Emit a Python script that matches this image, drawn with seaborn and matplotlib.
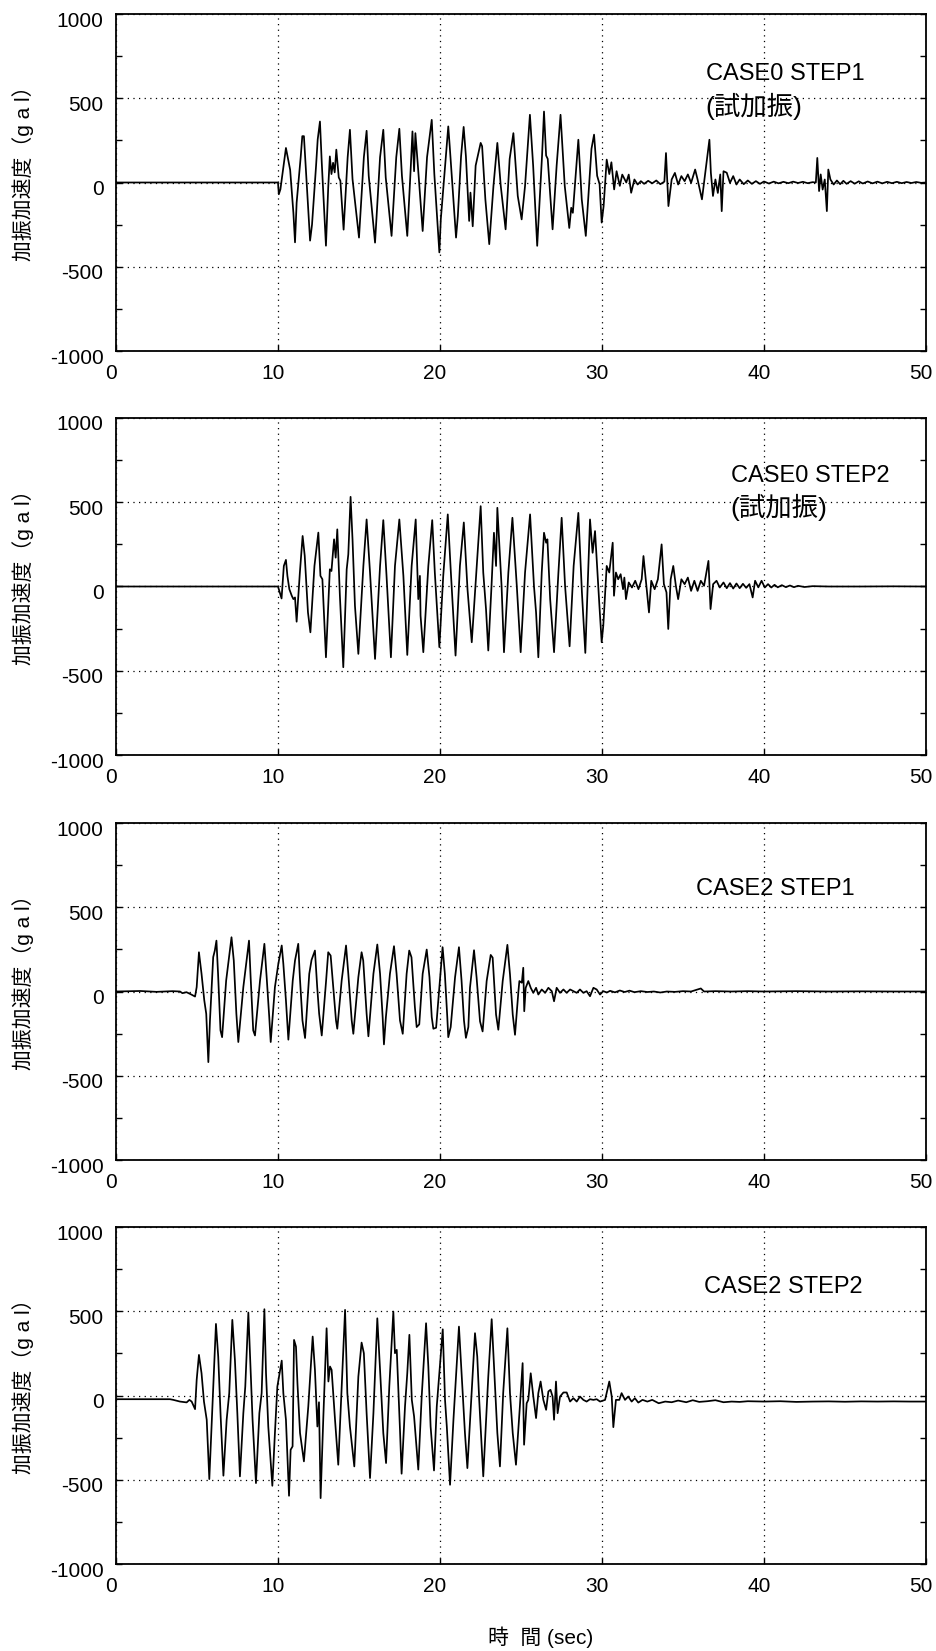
import pandas as pd
import matplotlib
matplotlib.use('Agg')
import matplotlib.pyplot as plt
import matplotlib.transforms as mtransforms
from matplotlib.ticker import MultipleLocator
import seaborn as sns

# (time [s], acceleration [gal]) vertices
case0_step1 = [
    (0, 0), (10.0, 0), (10.05, -70), (10.15, -40), (10.49, 205), (10.75, 75), (10.95, -180),
    (11.05, -355), (11.15, -120), (11.4, 150), (11.5, 275), (11.6, 275), (11.8, -50), (11.98, -345),
    (12.1, -250), (12.35, 100), (12.45, 255), (12.59, 362), (12.7, 120), (12.96, -375), (13.1, -30),
    (13.2, 155), (13.3, 50), (13.4, 117), (13.5, 60), (13.6, 195), (13.75, 30), (13.85, 10),
    (14.05, -280), (14.3, 150), (14.44, 313), (14.6, 20), (15.0, -327), (15.3, 150), (15.47, 307),
    (15.6, 40), (15.99, -357), (16.3, 150), (16.5, 313), (16.65, 30), (17.01, -317), (17.3, 150),
    (17.49, 319), (17.65, 40), (17.98, -317), (18.2, 100), (18.3, 303), (18.4, 67), (18.48, 293),
    (18.65, 80), (18.93, -288), (19.2, 150), (19.49, 372), (19.65, 50), (19.96, -415), (20.05, -218),
    (20.15, -100), (20.51, 333), (20.6, 215), (20.99, -327), (21.1, -200), (21.3, 155), (21.46, 330),
    (21.6, 155), (21.8, -228), (21.88, -60), (22.02, -260), (22.2, 100), (22.51, 235), (22.6, 215),
    (22.8, -100), (23.04, -366), (23.3, -20), (23.54, 235), (23.75, -20), (24.05, -278), (24.3, 140),
    (24.53, 293), (24.8, -80), (25.04, -219), (25.25, -20), (25.55, 402), (25.75, 100), (26.0, -376),
    (26.3, 160), (26.42, 421), (26.55, 160), (26.65, 140), (26.95, -278), (27.2, 100), (27.44, 402),
    (27.7, -20), (27.98, -270), (28.1, -150), (28.2, -180), (28.54, 254), (28.75, -100), (29.0, -317),
    (29.35, 200), (29.51, 284), (29.7, 40), (29.85, -10), (29.98, -238), (30.1, -140), (30.29, 136),
    (30.45, 50), (30.58, 120), (30.75, -41), (30.9, 67), (31.1, -20), (31.25, 47), (31.5, 0),
    (31.65, 47), (31.8, -61), (32.0, 18), (32.2, -12), (32.4, 8), (32.6, -8), (32.85, 10), (33.1, -5),
    (33.35, 12), (33.6, -10), (33.85, 5), (33.95, 175), (34.1, -140), (34.3, 18), (34.5, 57),
    (34.7, -12), (34.9, 38), (35.1, 8), (35.3, 48), (35.5, -2), (35.75, 77), (35.9, 18), (36.17, -100),
    (36.35, 38), (36.63, 254), (36.72, 58), (36.85, -80), (37.0, 18), (37.15, -62), (37.3, 48),
    (37.39, -170), (37.5, 67), (37.7, 58), (37.9, -2), (38.1, 38), (38.3, -12), (38.5, 18),
    (38.75, -10), (39.0, 12), (39.25, -8), (39.5, 8), (39.75, -8), (40.0, 6), (40.3, -6), (40.6, 5),
    (40.9, -5), (41.2, 4), (41.5, -4), (41.8, 5), (42.1, -3), (42.4, 4), (42.7, -4), (43.0, 2),
    (43.2, 0), (43.29, 146), (43.4, -51), (43.5, 48), (43.62, -42), (43.75, 18), (43.88, -170),
    (43.97, 77), (44.1, 18), (44.3, -12), (44.5, 12), (44.7, -10), (44.9, 10), (45.1, -8), (45.35, 8),
    (45.6, -7), (45.85, 7), (46.1, -6), (46.4, 6), (46.7, -5), (47.0, 5), (47.3, -5), (47.6, 4),
    (47.9, -4), (48.2, 4), (48.5, -4), (48.8, 3), (49.1, -3), (49.4, 3), (49.7, -2), (50, 0),
]

case0_step2 = [
    (0, 0), (10.0, 0), (10.22, -71), (10.36, 122), (10.49, 158), (10.58, 63), (10.7, -16), (10.85, -55),
    (10.95, -75), (11.05, -65), (11.15, -209), (11.35, 83), (11.52, 300), (11.65, 182), (11.85, -154),
    (12.0, -272), (12.25, 122), (12.49, 320), (12.62, 63), (12.74, 43), (12.96, -420), (13.2, 102),
    (13.3, 92), (13.46, 280), (13.56, 171), (13.66, 339), (13.82, -55), (14.03, -479), (14.24, 102),
    (14.34, 191), (14.48, 532), (14.6, 280), (14.75, -114), (14.96, -400), (15.27, 122), (15.47, 398),
    (15.68, 83), (15.99, -430), (16.3, 122), (16.5, 394), (16.7, 63), (16.97, -420), (17.22, 122),
    (17.49, 398), (17.74, 63), (17.98, -406), (18.25, 122), (18.5, 398), (18.66, -75), (18.76, 63),
    (18.8, -173), (18.97, -390), (19.28, 122), (19.52, 394), (19.68, 83), (19.96, -360), (20.2, 63),
    (20.48, 428), (20.66, 102), (20.96, -410), (21.23, 122), (21.47, 380), (21.7, -20), (21.96, -331),
    (22.27, 122), (22.51, 477), (22.67, 83), (22.84, -134), (22.98, -380), (23.18, 4), (23.33, 319),
    (23.46, 122), (23.54, 467), (23.8, 4), (23.95, -390), (24.22, 83), (24.47, 408), (24.74, 4),
    (24.98, -390), (25.25, 83), (25.56, 428), (25.8, 4), (25.93, -154), (26.07, -420), (26.28, 83),
    (26.42, 319), (26.55, 260), (26.63, 280), (26.8, -75), (27.04, -390), (27.31, 83), (27.51, 408),
    (27.72, 4), (28.0, -355), (28.25, 122), (28.54, 437), (28.76, -35), (28.97, -394), (29.26, 398),
    (29.42, 200), (29.57, 329), (29.67, 162), (29.84, -114), (29.98, -331), (30.08, -232), (30.29, 122),
    (30.45, 83), (30.66, 260), (30.74, -55), (30.86, 83), (31.0, 43), (31.15, 73), (31.3, -16),
    (31.38, 53), (31.48, -75), (31.65, 24), (31.85, -6), (32.05, 34), (32.25, -16), (32.45, 43),
    (32.56, 181), (32.77, -26), (32.9, -154), (33.04, 34), (33.25, -16), (33.45, 43), (33.68, 250),
    (33.82, 14), (33.98, -35), (34.09, -252), (34.24, 43), (34.4, 122), (34.56, 4), (34.7, -75),
    (34.9, 43), (35.1, 14), (35.3, 53), (35.5, -26), (35.7, 34), (35.9, -26), (36.1, 34), (36.3, 4),
    (36.57, 152), (36.7, -134), (36.86, 14), (37.07, 34), (37.27, -6), (37.5, 24), (37.7, -10),
    (37.9, 20), (38.1, -12), (38.3, 18), (38.5, -10), (38.7, 16), (38.9, -8), (39.1, 14), (39.3, -65),
    (39.45, 34), (39.65, -5), (39.85, 34), (40.05, -6), (40.25, 14), (40.45, -6), (40.65, 10),
    (40.85, -5), (41.1, 8), (41.35, -4), (41.6, 6), (41.85, -4), (42.1, 4), (42.5, -3), (43.0, 2),
    (44.0, 0), (46.0, 0), (48.0, 1), (50, 0),
]

case2_step1 = [
    (0, 0), (1.5, 3), (2.5, -2), (3.5, 2), (3.95, 0), (4.1, -10), (4.35, -4), (4.65, -18), (4.88, -30),
    (4.98, 26), (5.12, 233), (5.28, 105), (5.45, -53), (5.57, -132), (5.7, -419), (5.8, -172),
    (6.0, 204), (6.1, 243), (6.2, 302), (6.3, 105), (6.45, -231), (6.55, -271), (6.8, 65), (7.13, 322),
    (7.27, 184), (7.43, -132), (7.55, -300), (7.86, 26), (8.06, 184), (8.21, 302), (8.31, 85),
    (8.47, -231), (8.58, -261), (8.89, 65), (9.16, 283), (9.3, 85), (9.46, -152), (9.55, -300),
    (9.81, 26), (10.02, 164), (10.23, 273), (10.33, 164), (10.49, -53), (10.64, -286), (10.91, 65),
    (11.05, 184), (11.25, 283), (11.35, 85), (11.51, -172), (11.67, -276), (11.93, 105), (12.07, 187),
    (12.28, 243), (12.42, 26), (12.54, -132), (12.7, -261), (12.97, 65), (13.1, 233), (13.25, 213),
    (13.41, 26), (13.58, -172), (13.66, -221), (13.93, 65), (14.2, 273), (14.34, 105), (14.55, -172),
    (14.65, -251), (14.96, 85), (15.16, 233), (15.26, 184), (15.47, -132), (15.58, -266), (15.89, 105),
    (16.13, 279), (16.3, 105), (16.46, -152), (16.54, -314), (16.66, -152), (16.91, 105), (17.16, 269),
    (17.32, 105), (17.53, -172), (17.7, -251), (17.94, 105), (18.1, 243), (18.24, 203), (18.45, -93),
    (18.56, -211), (18.72, -195), (18.93, 105), (19.18, 249), (19.35, 85), (19.49, -152), (19.59, -221),
    (19.76, -215), (19.96, 26), (20.16, 263), (20.3, 105), (20.45, -152), (20.51, -271), (20.66, -211),
    (20.93, 85), (21.17, 263), (21.33, 65), (21.48, -172), (21.6, -275), (21.75, -211), (21.85, 22),
    (22.1, 245), (22.26, 82), (22.47, -177), (22.63, -237), (22.88, 62), (23.13, 217), (23.25, 201),
    (23.46, -137), (23.6, -227), (23.87, 62), (24.16, 277), (24.32, 102), (24.49, -137), (24.63, -257),
    (24.84, 0), (24.9, 62), (25.05, 52), (25.14, 141), (25.2, -117), (25.29, 22), (25.45, 62),
    (25.6, 22), (25.76, -8), (25.93, 22), (26.07, -18), (26.28, 12), (26.49, -8), (26.69, 22),
    (26.9, 2), (27.04, -58), (27.2, 22), (27.41, -8), (27.62, 12), (27.82, -8), (28.03, 12),
    (28.23, 2), (28.44, -8), (28.64, 12), (28.85, -8), (29.05, 2), (29.26, -28), (29.47, 22),
    (29.67, 12), (29.88, -18), (30.08, 2), (30.3, -6), (30.5, 4), (30.8, -5), (31.1, 6), (31.4, -3),
    (31.7, 5), (32.0, -4), (32.4, 2), (32.8, -3), (33.2, 0), (33.6, -6), (34.0, 0), (34.5, -2),
    (35.0, 2), (35.5, 0), (36.1, 18), (36.3, 0), (37.0, 2), (38.0, 0), (39.0, 2), (40.0, 0),
    (42.0, 2), (44.0, 0), (46.0, 1), (48.0, 0), (50, 0),
]

case2_step2 = [
    (0, -22), (3.33, -22), (3.54, -26), (3.95, -36), (4.36, -41), (4.53, -26), (4.67, -36), (4.88, -81),
    (4.98, 93), (5.12, 241), (5.28, 132), (5.43, -36), (5.6, -144), (5.76, -496), (5.9, -184),
    (6.0, 53), (6.17, 425), (6.31, 231), (6.46, -124), (6.63, -476), (6.83, -144), (6.99, 14),
    (7.18, 449), (7.34, 211), (7.49, -105), (7.65, -480), (7.86, -105), (7.98, 53), (8.17, 492),
    (8.27, 251), (8.43, -144), (8.64, -520), (8.85, -105), (8.99, 14), (9.16, 512), (9.26, 132),
    (9.4, -184), (9.65, -536), (9.81, -223), (9.96, 53), (10.23, 207), (10.33, 14), (10.49, -144),
    (10.68, -595), (10.78, -322), (10.9, -302), (10.99, 330), (11.11, 290), (11.2, 73), (11.36, -223),
    (11.6, -391), (11.87, -65), (12.14, 350), (12.28, 152), (12.43, -184), (12.53, -40), (12.63, -609),
    (12.8, -124), (13.0, 399), (13.11, 83), (13.21, 172), (13.31, 152), (13.52, -144), (13.72, -411),
    (13.93, 53), (14.14, 508), (14.28, 14), (14.44, -184), (14.71, -421), (14.96, 112), (15.16, 314),
    (15.3, 251), (15.47, -105), (15.68, -490), (15.89, -105), (16.13, 458), (16.3, 152), (16.5, -223),
    (16.67, -401), (16.87, 53), (17.12, 498), (17.22, 251), (17.33, 271), (17.53, -204), (17.63, -464),
    (17.84, -65), (17.98, 132), (18.11, 360), (18.26, -26), (18.4, -124), (18.66, -440), (18.87, -6),
    (19.14, 429), (19.28, 172), (19.42, -184), (19.63, -445), (19.8, -65), (19.96, 132), (20.17, 393),
    (20.31, -26), (20.42, -184), (20.62, -530), (20.83, -144), (21.17, 409), (21.33, 132),
    (21.54, -223), (21.69, -431), (21.95, 14), (22.16, 370), (22.3, 231), (22.42, -26), (22.67, -480),
    (22.98, 112), (23.19, 453), (23.4, 53), (23.54, -223), (23.7, -421), (23.9, 14), (24.16, 399),
    (24.32, 14), (24.49, -223), (24.69, -411), (24.93, -65), (25.1, 192), (25.19, -292), (25.35, -46),
    (25.45, -26), (25.6, 132), (25.76, -6), (25.93, -134), (26.07, 14), (26.21, 83), (26.38, -26),
    (26.55, -85), (26.69, 24), (26.82, 34), (26.95, -6), (27.04, -144), (27.16, 83), (27.26, -105),
    (27.41, -6), (27.62, 18), (27.82, 18), (28.03, -36), (28.23, -16), (28.44, -36), (28.64, -6),
    (28.85, -26), (29.05, -36), (29.26, -22), (29.47, -26), (29.67, -22), (29.88, -36), (30.19, -26),
    (30.45, 83), (30.6, -6), (30.7, -188), (30.86, -26), (31.07, -26), (31.21, 14), (31.42, -26),
    (31.62, -6), (31.83, -36), (32.03, -16), (32.24, -42), (32.5, -26), (32.8, -36), (33.1, -26),
    (33.5, -46), (33.9, -36), (34.3, -40), (34.7, -30), (35.2, -40), (35.6, -28), (36.0, -38),
    (36.5, -34), (37.0, -28), (37.5, -40), (38.0, -36), (38.5, -38), (39.0, -34), (40.0, -36),
    (41.0, -34), (42.0, -38), (43.0, -36), (44.0, -35), (45.0, -37), (46.0, -35), (47.0, -36),
    (48.0, -35), (49.0, -36), (50, -36),
]

series = [case0_step1, case0_step2, case2_step1, case2_step2]
case_labels = ['CASE0 STEP1', 'CASE0 STEP2', 'CASE2 STEP1', 'CASE2 STEP2']
sub_labels = ['(試加振)', '(試加振)', None, None]
x_ticks = [0, 10, 20, 30, 40, 50]
y_ticks = [-1000, -500, 0, 500, 1000]

sns.set_theme(style='ticks')
plt.rcParams['font.family'] = ['Liberation Sans', 'Noto Sans CJK JP']
plt.rcParams['axes.unicode_minus'] = False

W, H = 936, 1651
fig = plt.figure(figsize=(W / 100, H / 100), dpi=100)

ax_left, ax_w, ax_h = 116, 810, 337
ax_tops = [14, 418, 823, 1227]
# label anchor positions in axes fraction
case_pos = [(0.728, 0.822), (0.759, 0.828), (0.716, 0.804), (0.726, 0.822)]
sub_pos = [(0.728, 0.727), (0.759, 0.735), None, None]

down = mtransforms.ScaledTranslation(0, -5 / 100, fig.dpi_scale_trans)
leftshift = mtransforms.ScaledTranslation(-5 / 100, 0, fig.dpi_scale_trans)

for i, pts in enumerate(series):
    top = ax_tops[i]
    ax = fig.add_axes([ax_left / W, 1 - (top + ax_h) / H, ax_w / W, ax_h / H])
    df = pd.DataFrame(pts, columns=['t', 'acc'])
    sns.lineplot(data=df, x='t', y='acc', ax=ax, color='black', lw=1.25,
                 estimator=None, sort=False)
    ax.set_xlim(0, 50)
    ax.set_ylim(-1000, 1000)
    ax.set_xticks(x_ticks)
    ax.set_yticks(y_ticks)
    ax.yaxis.set_minor_locator(MultipleLocator(250))
    ax.grid(True, which='major', color='black', lw=0.9, ls=(0, (1, 3.5)))
    ax.tick_params(which='both', direction='in', right=True, top=False,
                   labelsize=15, length=4, width=1, color='black', labelcolor='black')
    ax.tick_params(axis='y', pad=9)
    ax.tick_params(axis='x', pad=9)
    ax.set_xlabel('')
    ax.set_ylabel('')
    for sp in ax.spines.values():
        sp.set_linewidth(1.3)
        sp.set_color('black')
    for lab in ax.get_yticklabels():
        lab.set_transform(lab.get_transform() + down)
    for lab in ax.get_xticklabels():
        lab.set_transform(lab.get_transform() + leftshift)

    cx, cy = case_pos[i]
    ax.text(cx, cy, case_labels[i], transform=ax.transAxes, ha='left', va='center',
            fontsize=17, color='black')
    if sub_labels[i]:
        sx, sy = sub_pos[i]
        ax.text(sx, sy, sub_labels[i], transform=ax.transAxes, ha='left', va='center',
                fontsize=19, color='black')

    fig.text(23 / W, 1 - (top + ax_h / 2 - 14) / H, '加振加速度（g a l）', rotation=90,
             ha='center', va='center', fontsize=15, color='black')

fig.text(541 / W, 1 - 1637 / H, '時  間 (sec)', ha='center', va='center',
         fontsize=15, color='black')

fig.savefig('out.png', dpi=100)
